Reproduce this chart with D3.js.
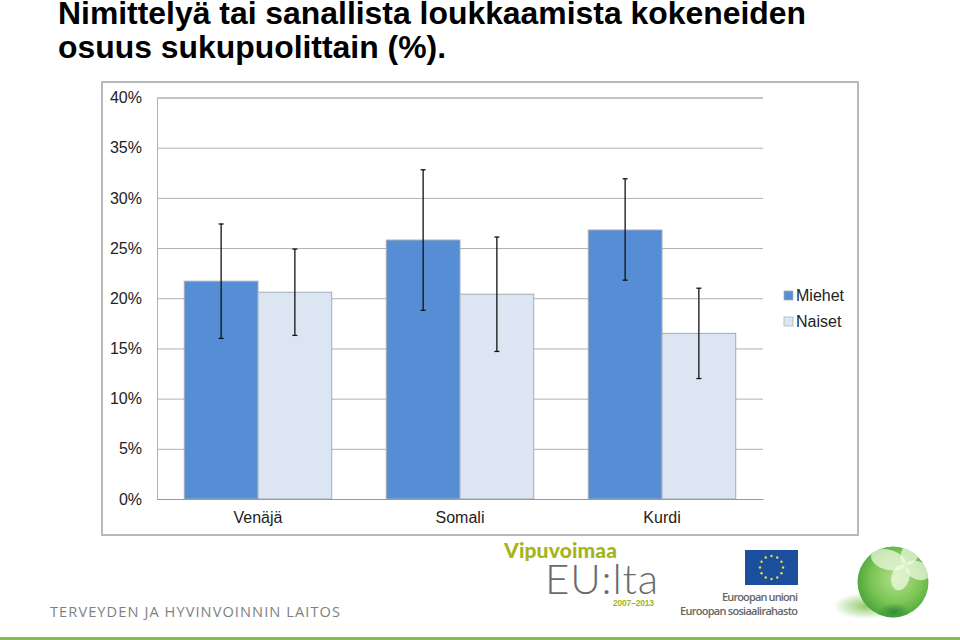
<!DOCTYPE html>
<html>
<head>
<meta charset="utf-8">
<script src="https://cdnjs.cloudflare.com/ajax/libs/d3/7.8.5/d3.min.js"></script>
<style>
    html, body { margin: 0; padding: 0; background: #fff; }
</style>
</head>
<body>
<div id="chart"></div>
<script>
const categories = ["Venäjä", "Somali", "Kurdi"];
const seriesNames = ["Miehet", "Naiset"];
const seriesColors = ["#558ed5", "#dce6f2"];
const miehet = [21.7, 25.8, 26.8];
const naiset = [20.6, 20.4, 16.5];
const miehetLow = [16.0, 18.8, 21.8];
const miehetHigh = [27.4, 32.8, 31.9];
const naisetLow = [16.3, 14.7, 12.0];
const naisetHigh = [24.9, 26.1, 21.0];
const yTicks = [0, 5, 10, 15, 20, 25, 30, 35, 40];
const titleLines = ["Nimittelyä tai sanallista loukkaamista kokeneiden", "osuus sukupuolittain (%)."];

const sans = "'Liberation Sans', Arial, sans-serif";

const svg = d3.select("#chart").append("svg")
    .attr("width", 960)
    .attr("height", 640)
    .attr("font-family", sans)
    .style("display", "block");

// Title
svg.selectAll(".title-line")
    .data(titleLines)
    .enter()
    .append("text")
    .attr("class", "title-line")
    .attr("x", 58)
    .attr("y", (d, i) => 24 + i * 34)
    .attr("font-size", 31.9)
    .attr("font-weight", "bold")
    .attr("fill", "#000")
    .text((d) => d);

// Chart frame
svg.append("rect")
    .attr("x", 102)
    .attr("y", 82)
    .attr("width", 756)
    .attr("height", 453)
    .attr("fill", "#fff")
    .attr("stroke", "#b8b8b8")
    .attr("stroke-width", 2);

// Scales
const x = d3.scaleBand()
    .domain(categories)
    .range([157, 763])
    .paddingInner(0.27)
    .paddingOuter(0.135);
const xInner = d3.scaleBand()
    .domain(seriesNames)
    .range([0, x.bandwidth()]);
const y = d3.scaleLinear()
    .domain([0, 40])
    .range([499, 97.5]);

// Gridlines and y labels
const yAxis = d3.axisLeft(y)
    .tickValues(yTicks)
    .tickSize(-606)
    .tickPadding(15)
    .tickFormat((d) => d + "%");
const yG = svg.append("g")
    .attr("transform", "translate(157,0)")
    .call(yAxis);
yG.select(".domain").attr("stroke", "#b0b0b0");
yG.selectAll(".tick line").attr("stroke", "#b0b0b0");
yG.selectAll(".tick text")
    .attr("font-size", 16)
    .attr("font-family", sans)
    .attr("fill", "#222");

// Bars
const rows = [
    {name: "Miehet", values: miehet, low: miehetLow, high: miehetHigh},
    {name: "Naiset", values: naiset, low: naisetLow, high: naisetHigh}
];
rows.forEach((row, s) => {
    svg.selectAll(".bar-" + s)
        .data(categories)
        .enter()
        .append("rect")
        .attr("class", "bar-" + s)
        .attr("x", (d) => x(d) + xInner(row.name))
        .attr("y", (d, i) => y(row.values[i]))
        .attr("width", xInner.bandwidth())
        .attr("height", (d, i) => y(0) - y(row.values[i]))
        .attr("fill", seriesColors[s])
        .attr("stroke", "#a3adb5")
        .attr("stroke-width", 1);
});

// Error bars
rows.forEach((row) => {
    categories.forEach((c, i) => {
        const cx = x(c) + xInner(row.name) + xInner.bandwidth() / 2;
        const g = svg.append("g").attr("stroke", "#111").attr("stroke-width", 1.3);
        g.append("line").attr("x1", cx).attr("x2", cx).attr("y1", y(row.low[i])).attr("y2", y(row.high[i]));
        g.append("line").attr("x1", cx - 2.5).attr("x2", cx + 2.5).attr("y1", y(row.low[i])).attr("y2", y(row.low[i]));
        g.append("line").attr("x1", cx - 2.5).attr("x2", cx + 2.5).attr("y1", y(row.high[i])).attr("y2", y(row.high[i]));
    });
});

// Baseline and category labels
const xAxis = d3.axisBottom(x).tickSize(0).tickPadding(13);
const xG = svg.append("g")
    .attr("transform", "translate(0,499)")
    .call(xAxis);
xG.select(".domain").attr("stroke", "#9a9a9a");
xG.selectAll(".tick text")
    .attr("font-size", 16)
    .attr("font-family", sans)
    .attr("fill", "#222");

// Legend
const legend = svg.selectAll(".legend")
    .data(seriesNames)
    .enter()
    .append("g")
    .attr("class", "legend")
    .attr("transform", (d, i) => `translate(784,${290 + i * 26})`);
legend.append("rect")
    .attr("width", 9)
    .attr("height", 9)
    .attr("y", 1)
    .attr("fill", (d, i) => seriesColors[i])
    .attr("stroke", "#a3adb5")
    .attr("stroke-width", 0.7);
legend.append("text")
    .attr("x", 12)
    .attr("y", 11)
    .attr("font-size", 16)
    .attr("fill", "#222")
    .text((d) => d);

// Footer
svg.append("rect")
    .attr("x", 0)
    .attr("y", 637)
    .attr("width", 960)
    .attr("height", 3)
    .attr("fill", "#84bd5a");
svg.append("text")
    .attr("x", 50)
    .attr("y", 617)
    .attr("font-size", 14.6)
    .attr("font-family", "'Open Sans', sans-serif")
    .attr("fill", "#7f7f7f")
    .attr("textLength", 290)
    .text("TERVEYDEN JA HYVINVOINNIN LAITOS");

// Vipuvoimaa logo
svg.append("text")
    .attr("x", 504)
    .attr("y", 558)
    .attr("font-size", 21)
    .attr("font-weight", 900)
    .attr("font-family", "Lato, sans-serif")
    .attr("fill", "#a4b51c")
    .attr("textLength", 113)
    .text("Vipuvoimaa");
svg.append("text")
    .attr("x", 545)
    .attr("y", 594)
    .attr("font-size", 42)
    .attr("font-weight", 300)
    .attr("font-family", "Lato, sans-serif")
    .attr("fill", "#6b6b6b")
    .attr("textLength", 113)
    .text("EU:lta");
svg.append("text")
    .attr("x", 613)
    .attr("y", 606)
    .attr("font-size", 8.5)
    .attr("font-weight", "bold")
    .attr("fill", "#a4b51c")
    .attr("textLength", 41)
    .text("2007–2013");

// EU flag
svg.append("rect")
    .attr("x", 745)
    .attr("y", 550)
    .attr("width", 53)
    .attr("height", 35)
    .attr("fill", "#1b4f9c");
const stars = d3.range(12);
svg.selectAll(".star")
    .data(stars)
    .enter()
    .append("circle")
    .attr("class", "star")
    .attr("cx", (d) => 771.5 + 11.5 * Math.cos(d * Math.PI / 6))
    .attr("cy", (d) => 567.5 + 11.5 * Math.sin(d * Math.PI / 6))
    .attr("r", 1.2)
    .attr("fill", "#e8e03a");
svg.append("text")
    .attr("x", 722)
    .attr("y", 601)
    .attr("font-size", 11)
    .attr("font-weight", 600)
    .attr("font-family", "'Open Sans', sans-serif")
    .attr("fill", "#666")
    .attr("textLength", 76)
    .text("Euroopan unioni");
svg.append("text")
    .attr("x", 680)
    .attr("y", 615)
    .attr("font-size", 11)
    .attr("font-weight", 600)
    .attr("font-family", "'Open Sans', sans-serif")
    .attr("fill", "#666")
    .attr("textLength", 118)
    .text("Euroopan sosiaalirahasto");

// Green ball logo
const defs = svg.append("defs");
const ballGrad = defs.append("radialGradient")
    .attr("id", "ball")
    .attr("cx", "55%")
    .attr("cy", "45%")
    .attr("r", "58%");
ballGrad.append("stop").attr("offset", "0%").attr("stop-color", "#b4e08c");
ballGrad.append("stop").attr("offset", "60%").attr("stop-color", "#7cc655");
ballGrad.append("stop").attr("offset", "100%").attr("stop-color", "#4aa33a");
const shadowGrad = defs.append("radialGradient").attr("id", "ball-shadow");
shadowGrad.append("stop").attr("offset", "0%").attr("stop-color", "#8fca6a");
shadowGrad.append("stop").attr("offset", "100%").attr("stop-color", "#fff");
const darkGrad = defs.append("radialGradient").attr("id", "ball-dark");
darkGrad.append("stop").attr("offset", "0%").attr("stop-color", "#2f8f3a");
darkGrad.append("stop").attr("offset", "100%").attr("stop-color", "#2f8f3a").attr("stop-opacity", 0);
defs.append("clipPath").attr("id", "ball-clip")
    .append("circle")
    .attr("cx", 893)
    .attr("cy", 582)
    .attr("r", 35.5);
svg.append("ellipse")
    .attr("cx", 866)
    .attr("cy", 606)
    .attr("rx", 33)
    .attr("ry", 13)
    .attr("fill", "url(#ball-shadow)");
svg.append("circle")
    .attr("cx", 893)
    .attr("cy", 582)
    .attr("r", 35.5)
    .attr("fill", "url(#ball)");
const ballParts = svg.append("g").attr("clip-path", "url(#ball-clip)");
ballParts.append("ellipse")
    .attr("cx", 894)
    .attr("cy", 612)
    .attr("rx", 16)
    .attr("ry", 9)
    .attr("fill", "url(#ball-dark)");
const petals = [[-165, 16, 18, 10], [-60, 14, 14, 9], [25, 15, 13, 9], [105, 14, 13, 9]];
ballParts.selectAll(".petal")
    .data(petals)
    .enter()
    .append("ellipse")
    .attr("class", "petal")
    .attr("rx", (d) => d[2])
    .attr("ry", (d) => d[3])
    .attr("fill", "#f2fbe8")
    .attr("opacity", 0.7)
    .attr("transform", (d) => `translate(904,564) rotate(${d[0]}) translate(${d[1]},0)`);
</script>
</body>
</html>
